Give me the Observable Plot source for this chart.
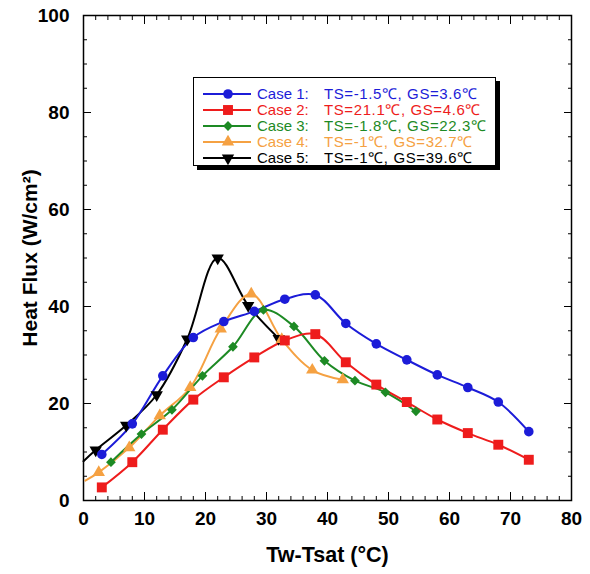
<!DOCTYPE html>
<html>
<head>
<meta charset="utf-8">
<script src="https://cdn.jsdelivr.net/npm/d3@7"></script>
<script src="https://cdn.jsdelivr.net/npm/@observablehq/plot@0.6"></script>
<style>
  html, body { margin: 0; padding: 0; background: #fff; }
  #wrap { position: relative; width: 590px; height: 574px; font-family: "Liberation Sans", Arial, sans-serif; }
  #legend { position: absolute; left: 193px; top: 77px; width: 301px; height: 87px; border: 1px solid #000; background: #fff; box-shadow: 4px 4px 0 #000; }
  .row { position: absolute; left: 0; height: 16px; line-height: 14px; display: flex; align-items: center; font-size: 15px; white-space: nowrap; }
  .row svg { display: block; }
  .case { display: inline-block; width: 67px; margin-left: 5px; }
  .info { letter-spacing: 0.6px; }
</style>
</head>
<body>
<div id="wrap"></div>
<script>
// ---- data ----
const caseNames = ["Case 1:", "Case 2:", "Case 3:", "Case 4:", "Case 5:"];
const caseInfo = ["TS=-1.5℃, GS=3.6℃", "TS=21.1℃, GS=4.6℃", "TS=-1.8℃, GS=22.3℃", "TS=-1℃, GS=32.7℃", "TS=-1℃, GS=39.6℃"];
const caseColors = ["#1c1cd8", "#ee1c1c", "#1d8a24", "#f5a142", "#000000"];
const caseSymbols = ["circle", "square", "diamond2", "triangle", "triangle"];
const caseRotate = [0, 0, 0, 0, 180];
const caseR = [4.8, 5.6, 4.4, 4.6, 4.6];

const case1X = [3, 8, 13, 18, 23, 28, 33, 38, 43, 48, 53, 58, 63, 68, 73];
const case1Y = [9.5, 15.8, 25.7, 33.6, 36.9, 39.0, 41.5, 42.4, 36.5, 32.3, 29.0, 25.9, 23.3, 20.3, 14.2];
const case2X = [3, 8, 13, 18, 23, 28, 33, 38, 43, 48, 53, 58, 63, 68, 73];
const case2Y = [2.7, 7.9, 14.6, 20.8, 25.4, 29.5, 33.0, 34.3, 28.5, 23.9, 20.3, 16.7, 13.9, 11.5, 8.4];
const case3X = [4.5, 9.5, 14.5, 19.5, 24.5, 29.5, 34.5, 39.5, 44.5, 49.5, 54.5];
const case3Y = [7.9, 13.7, 18.7, 25.7, 31.7, 39.3, 35.9, 28.8, 24.7, 22.3, 18.4];
const case4X = [2.5, 7.5, 12.5, 17.5, 22.5, 27.5, 32.5, 37.5, 42.5];
const case4Y = [5.8, 10.9, 17.5, 23.3, 35.4, 42.6, 33.2, 26.9, 24.9];
const case5X = [2, 7, 12, 17, 22, 27, 32];
const case5Y = [10.4, 15.5, 21.8, 33.3, 50.0, 40.2, 33.4];
// curve lead-in from the y axis (line only, no marker)
const leadX = [null, null, null, 0.3, 0];
const leadY = [null, null, null, 4.1, 8.1];

const xTicks = [0, 10, 20, 30, 40, 50, 60, 70, 80];
const yTicks = [0, 20, 40, 60, 80, 100];
const xMinor = d3.range(0, 81, 2);
const yMinor = d3.range(0, 101, 5);

const seriesX = [case1X, case2X, case3X, case4X, case5X];
const seriesY = [case1Y, case2Y, case3Y, case4Y, case5Y];

const pts = [];
const linePts = [];
seriesX.forEach((xs, s) => {
  if (leadX[s] !== null) linePts.push({s, x: leadX[s], y: leadY[s]});
  xs.forEach((x, i) => {
    pts.push({s, x, y: seriesY[s][i]});
    linePts.push({s, x, y: seriesY[s][i]});
  });
});

const order = [4, 3, 2, 1, 0];
const marks = [];
for (const s of order) {
  marks.push(Plot.line(linePts.filter(d => d.s === s), {x: "x", y: "y", stroke: caseColors[s], strokeWidth: 2, curve: "catmull-rom"}));
}
for (const s of order) {
  marks.push(Plot.dot(pts.filter(d => d.s === s), {x: "x", y: "y", fill: caseColors[s], stroke: "none", symbol: caseSymbols[s], r: caseR[s], rotate: caseRotate[s]}));
}

const chart = Plot.plot({
  width: 590,
  height: 574,
  marginLeft: 83,
  marginRight: 19,
  marginTop: 15,
  marginBottom: 74,
  style: {fontFamily: "Liberation Sans, Arial, sans-serif", background: "#fff", color: "#000"},
  x: {domain: [0, 80]},
  y: {domain: [0, 100]},
  marks: [
    // inward ticks
    Plot.axisX(xMinor, {anchor: "bottom", tickSize: 4, dy: -4, fill: "none", label: null}),
    Plot.axisX(xTicks, {anchor: "bottom", tickSize: 8, dy: -8, fill: "none", label: null}),
    Plot.axisX(xMinor, {anchor: "top", tickSize: 4, dy: 4, fill: "none", label: null}),
    Plot.axisX(xTicks, {anchor: "top", tickSize: 8, dy: 8, fill: "none", label: null}),
    Plot.axisY(yMinor, {anchor: "left", tickSize: 4, dx: 4, fill: "none", label: null}),
    Plot.axisY(yTicks, {anchor: "left", tickSize: 8, dx: 8, fill: "none", label: null}),
    Plot.axisY(yMinor, {anchor: "right", tickSize: 4, dx: -4, fill: "none", label: null}),
    Plot.axisY(yTicks, {anchor: "right", tickSize: 8, dx: -8, fill: "none", label: null}),
    // tick labels
    Plot.axisX(xTicks, {anchor: "bottom", tickSize: 0, tickPadding: 11, fontSize: 19, fontWeight: "bold", label: null}),
    Plot.axisY(yTicks, {anchor: "left", tickSize: 0, tickPadding: 14, fontSize: 19, fontWeight: "bold", label: null}),
    Plot.frame({stroke: "#000", strokeWidth: 1.5}),
    ...marks,
    Plot.text(["Tw-Tsat (°C)"], {frameAnchor: "bottom", textAnchor: "middle", lineAnchor: "middle", dy: 55, fontSize: 21.5, fontWeight: "bold", text: d => d}),
    Plot.text(["Heat Flux (W/cm²)"], {frameAnchor: "left", textAnchor: "middle", lineAnchor: "middle", dx: -53, rotate: -90, fontSize: 21, fontWeight: "bold", text: d => d})
  ]
});

const wrap = document.getElementById("wrap");
wrap.appendChild(chart);

// legend overlay
const legend = document.createElement("div");
legend.id = "legend";
const symMap = {circle: d3.symbolCircle, square: d3.symbolSquare, diamond2: d3.symbolDiamond2, triangle: d3.symbolTriangle};
caseNames.forEach((name, s) => {
  const row = document.createElement("div");
  row.className = "row";
  row.style.top = (8 + 16 * s) + "px";
  row.style.color = caseColors[s];
  const sw = d3.create("svg").attr("width", 58).attr("height", 16);
  sw.append("line").attr("x1", 9).attr("x2", 57).attr("y1", 8).attr("y2", 8).attr("stroke", caseColors[s]).attr("stroke-width", 2);
  sw.append("path").attr("d", d3.symbol(symMap[caseSymbols[s]], Math.PI * caseR[s] * caseR[s])())
    .attr("transform", `translate(34,8) rotate(${caseRotate[s]})`).attr("fill", caseColors[s]);
  row.appendChild(sw.node());
  const a = document.createElement("span");
  a.className = "case";
  a.textContent = name;
  const b = document.createElement("span");
  b.className = "info";
  b.textContent = caseInfo[s];
  row.appendChild(a);
  row.appendChild(b);
  legend.appendChild(row);
});
wrap.appendChild(legend);
</script>
</body>
</html>
